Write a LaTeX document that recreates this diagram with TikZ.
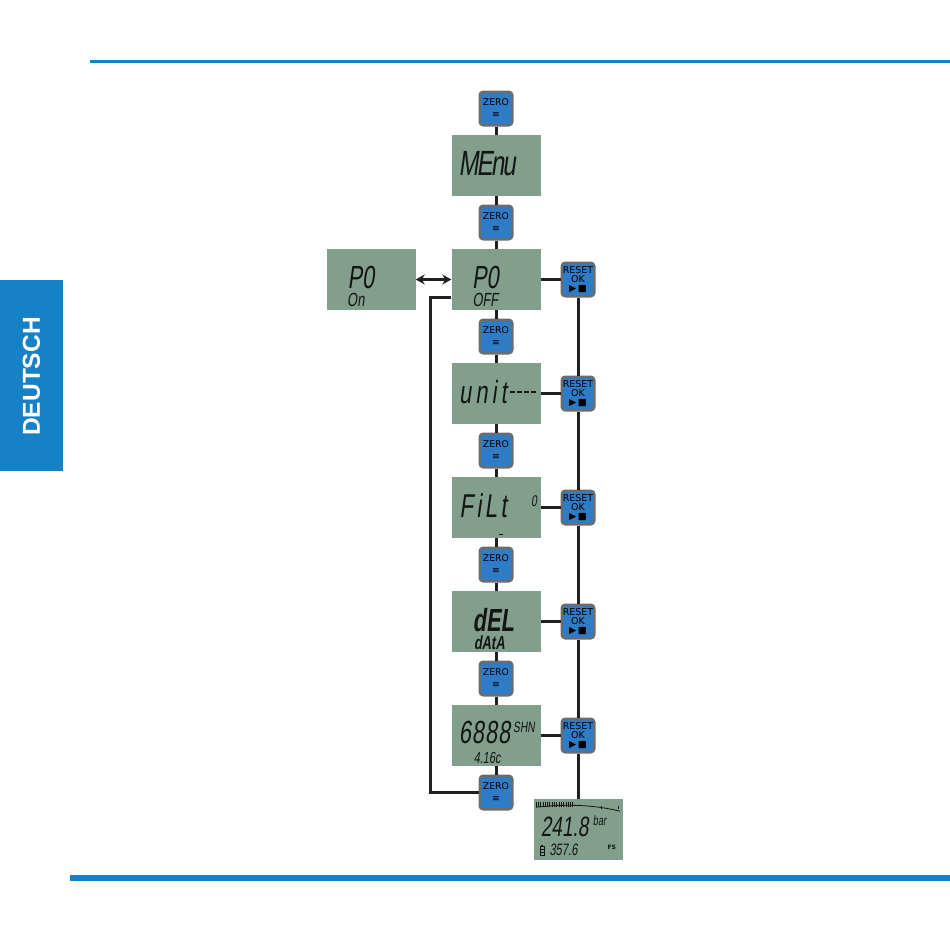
\documentclass[tikz,border=0pt]{standalone}
\usepackage{fontspec}
\usepackage{tikz}
\usetikzlibrary{arrows.meta}

\newfontfamily\lcdfont[FakeStretch=0.68,FakeSlant=0.14]{Liberation Sans}
\newfontfamily\keyfont{DejaVu Sans}
\newfontfamily\tabfont{Liberation Sans}

\definecolor{lcdgreen}{HTML}{819F8B}
\definecolor{keyblue}{HTML}{2F7CC6}
\definecolor{keygray}{HTML}{6A6D6E}
\definecolor{linkblack}{HTML}{231F20}
\definecolor{rulerblue}{HTML}{1681C7}
\definecolor{lcdink}{HTML}{141414}

\begin{document}
\begin{tikzpicture}[x=1pt, y=-1pt, node distance=57pt,
		>={Stealth[length=9pt,width=10pt]},
		display/.style={fill=lcdgreen, minimum width=89pt, minimum height=61pt, inner sep=0pt},
		key/.style={draw=keygray, fill=keyblue, line width=2.5pt, rounded corners=3.5pt,
			minimum width=32.5pt, minimum height=33.5pt, inner sep=0pt, align=center},
		zerokey/.style={key, font=\keyfont\fontsize{9.3}{12}\selectfont},
		resetkey/.style={key, font=\keyfont\fontsize{9.5}{9.2}\selectfont},
		link/.style={draw=linkblack, line width=3pt},
		lcd/.style={inner sep=0pt, anchor=base west, text depth=0pt, text=lcdink,
			font=\lcdfont\fontsize{#1}{#1}\selectfont},
		lcdbold/.style={lcd=#1, font=\lcdfont\bfseries\fontsize{#1}{#1}\selectfont},
		segment/.style={draw=lcdink, line width=1.1pt}
		]
		\useasboundingbox (0,0) rectangle (950,950);

		% page rules and language tab
		\draw[rulerblue, line width=2.7pt] (90,61.3) -- (950,61.3);
		\draw[rulerblue, line width=5.7pt] (70,877.8) -- (950,877.8);
		\fill[rulerblue] (0,280) rectangle (63,471);
		\node[rotate=90, text=white, font=\tabfont\bfseries\fontsize{24.5}{24.5}\selectfont] (TAB) at (31.5,376.5) {DEUTSCH};

		% main column
		\node[zerokey] (Z0) at (496,108.5) {ZERO\\≡};
		\node[display, below of = Z0] (D0) {};
		\node[zerokey, below of = D0] (Z1) {ZERO\\≡};
		\node[display, below of = Z1] (D1) {};
		\node[zerokey, below of = D1] (Z2) {ZERO\\≡};
		\node[display, below of = Z2] (D2) {};
		\node[zerokey, below of = D2] (Z3) {ZERO\\≡};
		\node[display, below of = Z3] (D3) {};
		\node[zerokey, below of = D3] (Z4) {ZERO\\≡};
		\node[display, below of = Z4] (D4) {};
		\node[zerokey, below of = D4] (Z5) {ZERO\\≡};
		\node[display, below of = Z5] (D5) {};
		\node[zerokey, below of = D5] (Z6) {ZERO\\≡};

		% side displays and keys
		\node[display, left of = D1, xshift = -68pt] (D6) {};
		\node[resetkey, right of = D1, xshift = 25pt] (R1) {RESET\\OK\\▶\,■};
		\node[resetkey, right of = D2, xshift = 25pt] (R2) {RESET\\OK\\▶\,■};
		\node[resetkey, right of = D3, xshift = 25pt] (R3) {RESET\\OK\\▶\,■};
		\node[resetkey, right of = D4, xshift = 25pt] (R4) {RESET\\OK\\▶\,■};
		\node[resetkey, right of = D5, xshift = 25pt] (R5) {RESET\\OK\\▶\,■};
		\node[display, below of = R5, yshift = -37pt] (D7) {};

		% connectors
		\foreach \a/\b in {Z0/D0, D0/Z1, Z1/D1, D1/Z2, Z2/D2, D2/Z3, Z3/D3, D3/Z4, Z4/D4, D4/Z5, Z5/D5, D5/Z6}
			\draw[link] (\a) -- (\b);
		\foreach \i in {1,...,5}
			\draw[link] (D\i) -- (R\i);
		\foreach \a/\b in {R1/R2, R2/R3, R3/R4, R4/R5, R5/D7}
			\draw[link] (\a) -- (\b);
		\draw[link] ([yshift=-18pt]D1.west) -- ++(-21,0) |- (Z6.west);
		\draw[<->, draw=linkblack, line width=2.6pt] (D6) -- (D1);

		% display texts
		\node[lcd=35] (T0) at ([shift={(-37.6,9.7)}]D0.center) {\addfontfeature{LetterSpace=-5}MEnu};
		\node[lcd=32] (T1) at ([shift={(-24,9)}]D1.center) {P0};
		\node[lcd=19] (T1b) at ([shift={(-23.7,27.4)}]D1.center) {OFF};
		\node[lcd=32] (T6) at ([shift={(-23.7,9)}]D6.center) {P0};
		\node[lcd=19] (T6b) at ([shift={(-24,27.4)}]D6.center) {On};
		\node[lcd=32] (T2) at ([shift={(-37.2,10.3)}]D2.center) {\addfontfeature{LetterSpace=13}unit};
		\draw[segment, dash pattern=on 4.5pt off 2.5pt] ([shift={(14,-1.5)}]D2.center) -- ++(27,0);
		\node[lcd=33] (T3) at ([shift={(-36.9,9.6)}]D3.center) {\addfontfeature{LetterSpace=10}FiLt};
		\node[lcd=15.5] (T3b) at ([shift={(34.8,-1)}]D3.center) {0};
		\draw[segment] ([shift={(3,27)}]D3.center) -- ++(4,0);
		\node[lcdbold=32] (T4) at ([shift={(-23.5,9.9)}]D4.center) {dEL};
		\node[lcdbold=19] (T4b) at ([shift={(-22.2,28.4)}]D4.center) {dAtA};
		\node[lcd=32] (T5) at ([shift={(-37.3,8.4)}]D5.center) {\addfontfeature{LetterSpace=3}6888};
		\node[lcd=15] (T5b) at ([shift={(17,-2.6)}]D5.center) {SHN};
		\node[lcd=16] (T5c) at ([shift={(-22.3,28.4)}]D5.center) {4.16c};
		\node[lcd=28] (T7) at ([shift={(-37.3,6.7)}]D7.center) {241.8};
		\node[lcd=13.5] (T7b) at ([shift={(14.7,-4)}]D7.center) {bar};
		\node[lcd=16.5] (T7c) at ([shift={(-28.7,26)}]D7.center) {357.6};
		\node[inner sep=0pt, anchor=base west, text depth=0pt, text=lcdink, font=\keyfont\bfseries\fontsize{6}{6}\selectfont] (T7d) at ([shift={(29.3,20)}]D7.center) {FS};

		% bargraph and battery of the last display
		\begin{scope}[shift={(D7.center)}]
			\draw[lcdink, line width=0.8pt] (-42,-22.3) .. controls (-12,-25.5) and (15,-25) .. (42,-18.3);
			\foreach \t in {-42,-39.7,...,-3}
				\draw[lcdink, line width=0.8pt] (\t,-22.5) -- ++(0,-5);
			\foreach \t in {23.7,40.3}
				\draw[lcdink, line width=0.8pt] (\t,-20.5) -- ++(0,-3.5);
			\draw[lcdink, line width=0.8pt] (-38,16.8) rectangle (-34,26);
			\fill[lcdink] (-37,15.3) rectangle (-35,16.8);
			\draw[lcdink, line width=0.6pt] (-37.5,20) -- (-34.5,20) (-37.5,23) -- (-34.5,23);
		\end{scope}
	\end{tikzpicture}
\end{document}
